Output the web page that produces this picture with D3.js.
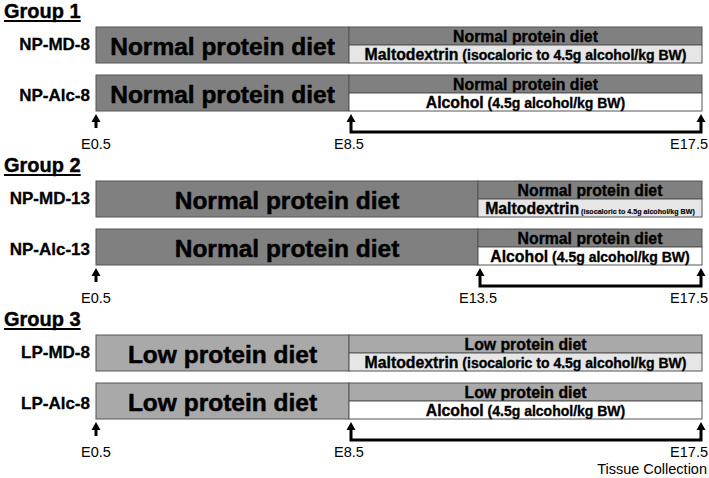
<!DOCTYPE html>
<html><head><meta charset="utf-8">
<script src="https://cdn.jsdelivr.net/npm/d3@7"></script>
<style>
html,body{margin:0;padding:0;background:#fff;}
svg{display:block;font-family:Arial,"Liberation Sans",sans-serif;}
</style>
</head><body>
<svg id="chart" width="709" height="478"></svg>
<script>
// ---- data ----
const groupNames = ["Group 1", "Group 2", "Group 3"];
const groupStartDay = [0.5, 0.5, 0.5];
const groupSwitchDay = [8.5, 13.5, 8.5];
const groupEndDay = [17.5, 17.5, 17.5];
const tickLabels = [["E0.5", "E8.5", "E17.5"], ["E0.5", "E13.5", "E17.5"], ["E0.5", "E8.5", "E17.5"]];

const rowLabels = ["NP-MD-8", "NP-Alc-8", "NP-MD-13", "NP-Alc-13", "LP-MD-8", "LP-Alc-8"];
const rowGroup = [0, 0, 1, 1, 2, 2];
const rowSlot = [0, 1, 0, 1, 0, 1];
const baseDiet = ["Normal protein diet", "Normal protein diet", "Normal protein diet", "Normal protein diet", "Low protein diet", "Low protein diet"];
const treatment = ["Maltodextrin", "Alcohol", "Maltodextrin", "Alcohol", "Maltodextrin", "Alcohol"];
const treatmentNote = ["(isocaloric to 4.5g alcohol/kg BW)", "(4.5g alcohol/kg BW)",
                       "(isocaloric to 4.5g alcohol/kg BW)", "(4.5g alcohol/kg BW)",
                       "(isocaloric to 4.5g alcohol/kg BW)", "(4.5g alcohol/kg BW)"];
const dietNames = ["Normal protein diet", "Low protein diet"];
const treatmentNames = ["Maltodextrin", "Alcohol"];
const endNote = "Tissue Collection";

// ---- scales ----
const svg = d3.select("#chart");
const x = d3.scaleLinear().domain([0.5, 8.5, 13.5, 17.5]).range([96, 349, 478, 702]);
const gy = d3.scaleLinear().domain([0, 2]).range([0, 308]);
const slotY = d3.scaleLinear().domain([0, 1]).range([27, 75]);
const barH = 36;
const dietColor = d3.scaleOrdinal().domain(dietNames).range(["#808080", "#a9a9a9"]);
const treatColor = d3.scaleOrdinal().domain(treatmentNames).range(["#e6e6e6", "#ffffff"]);
const stroke = "#555";

const rows = rowLabels.map((lab, i) => ({
  i, lab, g: rowGroup[i], slot: rowSlot[i],
  diet: baseDiet[i], treat: treatment[i], note: treatmentNote[i],
  start: groupStartDay[rowGroup[i]], sw: groupSwitchDay[rowGroup[i]], end: groupEndDay[rowGroup[i]],
  y: gy(rowGroup[i]) + slotY(rowSlot[i])
}));

function heavy(sel, w) {
  return sel.attr("stroke", "#000").attr("stroke-width", w).attr("stroke-linejoin", "round");
}

// ---- group titles ----
const gT = svg.selectAll("g.gtitle").data(groupNames).join("g").attr("class", "gtitle");
gT.append("text")
  .attr("x", 4).attr("y", (d, i) => gy(i) + 18)
  .attr("font-size", 20).attr("font-weight", "bold").attr("fill", "#000")
  .text(d => d)
  .call(heavy, 0.4)
  .each(function(d, i) {
    const w = this.getComputedTextLength();
    d3.select(this.parentNode).append("line")
      .attr("x1", 4).attr("x2", 4 + w)
      .attr("y1", gy(i) + 21).attr("y2", gy(i) + 21)
      .attr("stroke", "#000").attr("stroke-width", 2);
  });

// ---- rows ----
const R = svg.selectAll("g.row").data(rows).join("g").attr("class", "row");

R.append("text")
  .attr("x", 90).attr("y", d => d.y + 23 + d.slot * 3)
  .attr("text-anchor", "end").attr("font-size", 17).attr("font-weight", "bold")
  .text(d => d.lab).call(heavy, 0.3);

// left segment (base diet)
R.append("rect")
  .attr("x", d => x(d.start)).attr("y", d => d.y)
  .attr("width", d => x(d.sw) - x(d.start)).attr("height", barH)
  .attr("fill", d => dietColor(d.diet)).attr("stroke", stroke).attr("stroke-width", 1);
R.append("text")
  .attr("x", d => (x(d.start) + x(d.sw)) / 2).attr("y", d => d.y + 27.5)
  .attr("text-anchor", "middle").attr("font-size", 24.5).attr("font-weight", "bold")
  .text(d => d.diet).call(heavy, 0.5);

// right segment top band (diet continues)
R.append("rect")
  .attr("x", d => x(d.sw)).attr("y", d => d.y)
  .attr("width", d => x(d.end) - x(d.sw)).attr("height", barH / 2)
  .attr("fill", d => dietColor(d.diet)).attr("stroke", stroke).attr("stroke-width", 1);
R.append("text")
  .attr("x", d => (x(d.sw) + x(d.end)) / 2).attr("y", d => d.y + 15)
  .attr("text-anchor", "middle").attr("font-size", 15.8).attr("font-weight", "bold")
  .text(d => d.diet).call(heavy, 0.35);

// right segment bottom band (treatment)
R.append("rect")
  .attr("x", d => x(d.sw)).attr("y", d => d.y + barH / 2)
  .attr("width", d => x(d.end) - x(d.sw)).attr("height", barH / 2)
  .attr("fill", d => treatColor(d.treat)).attr("stroke", stroke).attr("stroke-width", 1);
R.append("text")
  .attr("x", d => (x(d.sw) + x(d.end)) / 2).attr("y", d => d.y + 33)
  .attr("text-anchor", "middle").attr("font-weight", "bold")
  .call(heavy, 0.35)
  .each(function(d) {
    const t = d3.select(this);
    const a = t.append("tspan").attr("font-size", 15.8).text(d.treat);
    const b = t.append("tspan").attr("font-size", 14).text(" " + d.note);
    const avail = x(d.end) - x(d.sw) - 14;
    const wa = a.node().getComputedTextLength();
    const wb = b.node().getComputedTextLength();
    if (wa + wb > avail) {
      b.attr("font-size", 14 * (avail - wa) / wb).attr("stroke-width", 0.15);
    }
  });

// ---- timeline arrows per group ----
function head(xc, yt) {
  return `M${xc - 4.5},${yt + 8}L${xc},${yt}L${xc + 4.5},${yt + 8}Z`;
}
const G = svg.selectAll("g.tl").data(groupNames).join("g").attr("class", "tl");
G.each(function(d, i) {
  const g = d3.select(this);
  const top = gy(i);
  const xs = x(groupStartDay[i]), xw = x(groupSwitchDay[i]) + 2, xe = x(groupEndDay[i]) - 1;
  g.append("line").attr("x1", xs).attr("x2", xs).attr("y1", top + 121).attr("y2", top + 128)
    .attr("stroke", "#000").attr("stroke-width", 3);
  g.append("path").attr("d", head(xs, top + 114)).attr("fill", "#000");
  g.append("path")
    .attr("d", `M${xw},${top + 121}V${top + 132}H${xe}V${top + 121}`)
    .attr("fill", "none").attr("stroke", "#000").attr("stroke-width", 3);
  g.append("path").attr("d", head(xw, top + 114)).attr("fill", "#000");
  g.append("path").attr("d", head(xe, top + 114)).attr("fill", "#000");
  const days = [groupStartDay[i], groupSwitchDay[i], groupEndDay[i]];
  tickLabels[i].forEach((lab, k) => {
    const last = k === tickLabels[i].length - 1;
    g.append("text")
      .attr("x", last ? x(days[k]) + 6 : x(days[k]))
      .attr("y", top + 149)
      .attr("text-anchor", last ? "end" : "middle")
      .attr("font-size", 14.5).attr("fill", "#000")
      .text(lab);
  });
});

svg.append("text")
  .attr("x", 707).attr("y", 474).attr("text-anchor", "end")
  .attr("font-size", 14.5).attr("fill", "#000").text(endNote);
</script>
</body></html>
